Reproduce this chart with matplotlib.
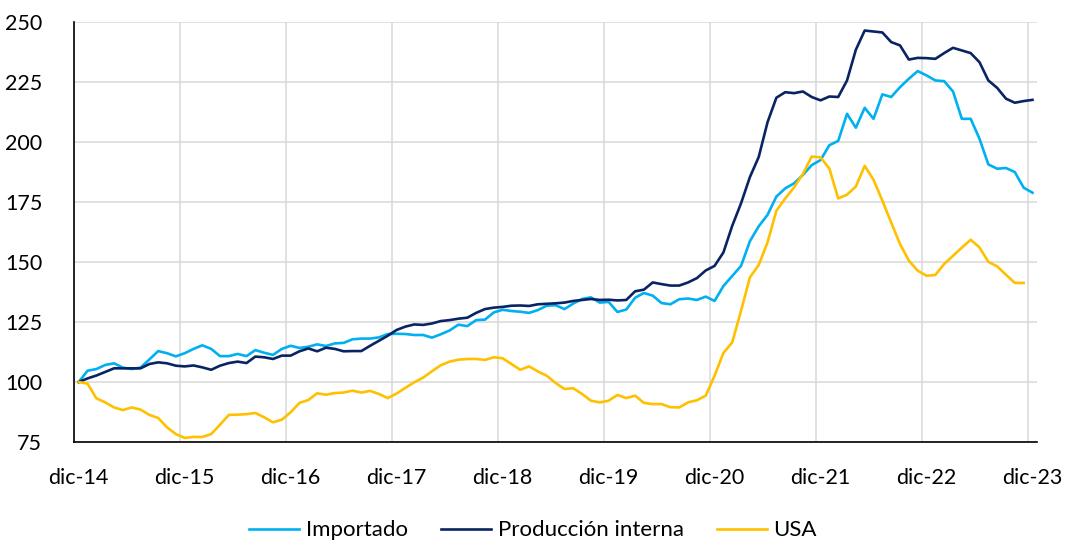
import numpy as np
import matplotlib.pyplot as plt
from matplotlib.ticker import MultipleLocator

# índices mensuales, dic-14 = 100
importado = [
    100, 104.7, 105.4, 107.1, 107.8, 106, 105.4, 106, 109.4, 112.9,
    112, 110.7, 112, 113.8, 115.3, 113.8, 110.8, 110.8, 111.7, 110.8,
    113.3, 112.2, 111.3, 113.8, 115.1, 114.2, 114.7, 115.7, 115, 116.1,
    116.3, 117.8, 118.1, 118.1, 118.6, 120, 120.1, 120, 119.6, 119.6,
    118.5, 119.9, 121.5, 123.9, 123.3, 125.8, 126, 129, 130.1, 129.6,
    129.3, 128.8, 130, 131.8, 132, 130.4, 132.7, 134.6, 135.3, 133.1,
    133.4, 129.2, 130.2, 135.1, 137.1, 136, 132.9, 132.4, 134.5, 134.8,
    134.2, 135.6, 133.8, 140, 144.2, 148.4, 158.7, 164.9, 169.7, 177.3,
    180.7, 182.8, 186.3, 190.4, 192.5, 198.7, 200.5, 211.8, 206, 214.3,
    209.7, 219.9, 218.8, 222.9, 226.4, 229.6, 227.8, 225.7, 225.4, 221.1,
    209.7, 209.7, 201.4, 190.7, 188.9, 189.2, 187.5, 181, 178.9,
]

produccion_interna = [
    100, 101.5, 102.7, 104.2, 105.7, 105.7, 105.7, 105.7, 107.5, 108.2,
    107.8, 106.8, 106.5, 106.9, 106.1, 105.1, 106.8, 107.9, 108.5, 107.9,
    110.6, 110.3, 109.6, 111, 111, 112.8, 114, 112.8, 114.3, 113.8,
    112.8, 112.9, 112.9, 115.1, 117.2, 119.3, 121.7, 123.1, 124, 123.8,
    124.4, 125.4, 125.8, 126.4, 126.8, 128.8, 130.4, 131, 131.3, 131.8,
    131.9, 131.7, 132.4, 132.6, 132.8, 133.1, 133.8, 134.2, 134.6, 134.2,
    134.3, 134, 134.2, 137.8, 138.5, 141.5, 140.8, 140.2, 140.2, 141.5,
    143.3, 146.5, 148.4, 154, 165.1, 174.5, 185.4, 193.8, 208.3, 218.5,
    220.8, 220.4, 221.1, 218.8, 217.4, 219, 218.8, 225.7, 238.5, 246.5,
    246.1, 245.7, 241.7, 240.3, 234.4, 235.1, 235, 234.7, 237.1, 239.3,
    238.2, 237.1, 233.3, 225.7, 222.6, 218.1, 216.4, 217.1, 217.6,
]

usa = [
    100, 99.3, 93.2, 91.5, 89.4, 88.3, 89.4, 88.5, 86.3, 85,
    81.1, 78.3, 76.7, 77.1, 77.1, 78.3, 82.2, 86.3, 86.4, 86.6,
    87.1, 85.3, 83.2, 84.3, 87.4, 91.3, 92.5, 95.3, 94.7, 95.4,
    95.6, 96.4, 95.6, 96.3, 95, 93.3, 95.2, 97.6, 99.9, 101.8,
    104.5, 107, 108.5, 109.3, 109.6, 109.6, 109.2, 110.3, 109.9, 107.5,
    105.1, 106.5, 104.4, 102.6, 99.6, 97.1, 97.4, 95, 92.2, 91.5,
    92.2, 94.6, 93.3, 94.3, 91.3, 90.8, 90.8, 89.5, 89.4, 91.5,
    92.4, 94.3, 102.6, 112.1, 116.5, 129.7, 143.6, 148.8, 158.2, 171.4,
    176.5, 181.1, 186.7, 194, 193.6, 189, 176.5, 178.1, 181.5, 190.1,
    184.3, 175.6, 166.5, 157.5, 150.6, 146.4, 144.3, 144.6, 149.2, 152.6,
    156, 159.3, 156.1, 150.1, 148.2, 144.7, 141.3, 141.3,
]

etiquetas = ["dic-14", "dic-15", "dic-16", "dic-17", "dic-18",
             "dic-19", "dic-20", "dic-21", "dic-22", "dic-23"]

plt.rcParams["font.family"] = ["Lato", "DejaVu Sans"]
plt.rcParams["font.size"] = 15.5

fig = plt.figure(figsize=(10.66, 5.4), dpi=100)
ax = fig.add_axes([0.0697, 0.1815, 0.903, 0.7775])

n = len(importado)
ax.plot(np.arange(n), importado, color="#00B0F0", lw=1.9, label="Importado")
ax.plot(np.arange(len(produccion_interna)), produccion_interna,
        color="#0A2463", lw=1.9, label="Producción interna")
ax.plot(np.arange(len(usa)), usa, color="#FFC000", lw=1.9, label="USA")

ax.set_ylim(75, 250)
ax.set_xlim(-0.5, n - 0.5)
ax.yaxis.set_major_locator(MultipleLocator(25))

# etiquetas en el centro de la categoría, rejilla entre categorías
ax.set_xticks(np.arange(len(etiquetas)) * 12)
ax.set_xticklabels(etiquetas)
ax.set_xticks(np.arange(len(etiquetas)) * 12 - 0.5, minor=True)
ax.tick_params(axis="x", which="both", length=0, pad=19)
ax.tick_params(axis="y", length=0, pad=23)
ax.grid(False)
ax.grid(axis="x", which="minor", color="#D9D9D9", lw=1.1)
ax.grid(axis="y", which="major", color="#D9D9D9", lw=1.1)
ax.set_axisbelow(True)

for s in ["top", "right"]:
    ax.spines[s].set_visible(False)
for s in ["left", "bottom"]:
    ax.spines[s].set_color("black")
    ax.spines[s].set_linewidth(1.2)

fig.legend(loc="center", bbox_to_anchor=(0.5, 0.018), ncol=3, frameon=False,
           fontsize=16, handlelength=2.25, handletextpad=0.3, columnspacing=1.5)

fig.savefig("out.png", dpi=100)
